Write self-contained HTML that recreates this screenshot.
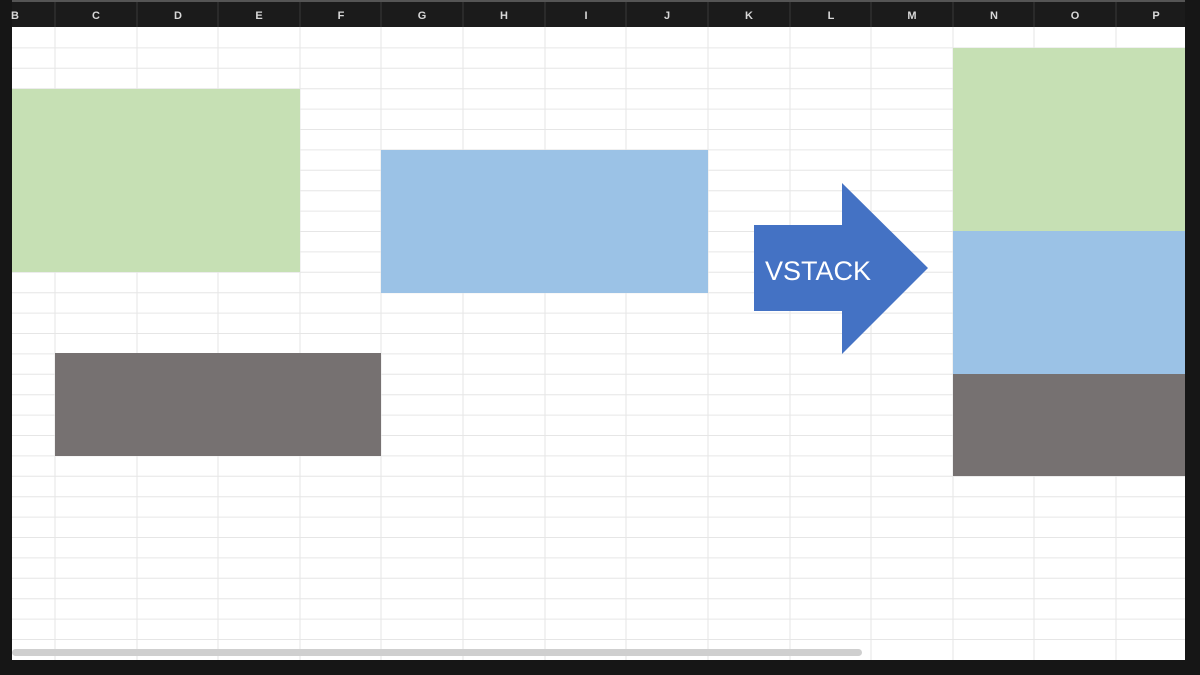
<!DOCTYPE html>
<html><head><meta charset="utf-8"><style>
html,body{margin:0;padding:0;background:#161616;}
svg{display:block}
</style></head><body>
<svg width="1200" height="675" viewBox="0 0 1200 675" xmlns="http://www.w3.org/2000/svg">
<rect x="0" y="0" width="1200" height="675" fill="#161616"/>
<rect x="12" y="0" width="1173" height="2" fill="#555"/>
<rect x="12" y="2" width="1173" height="25" fill="#1b1b1b"/>
<rect x="12" y="27" width="1173" height="633" fill="#ffffff"/>
<g stroke="#e6e6e6" stroke-width="1">
<line x1="12" y1="47.9" x2="1185" y2="47.9"/><line x1="12" y1="68.3" x2="1185" y2="68.3"/><line x1="12" y1="88.7" x2="1185" y2="88.7"/><line x1="12" y1="109.1" x2="1185" y2="109.1"/><line x1="12" y1="129.5" x2="1185" y2="129.5"/><line x1="12" y1="149.9" x2="1185" y2="149.9"/><line x1="12" y1="170.3" x2="1185" y2="170.3"/><line x1="12" y1="190.7" x2="1185" y2="190.7"/><line x1="12" y1="211.1" x2="1185" y2="211.1"/><line x1="12" y1="231.5" x2="1185" y2="231.5"/><line x1="12" y1="251.9" x2="1185" y2="251.9"/><line x1="12" y1="272.3" x2="1185" y2="272.3"/><line x1="12" y1="292.7" x2="1185" y2="292.7"/><line x1="12" y1="313.1" x2="1185" y2="313.1"/><line x1="12" y1="333.5" x2="1185" y2="333.5"/><line x1="12" y1="353.9" x2="1185" y2="353.9"/><line x1="12" y1="374.3" x2="1185" y2="374.3"/><line x1="12" y1="394.7" x2="1185" y2="394.7"/><line x1="12" y1="415.1" x2="1185" y2="415.1"/><line x1="12" y1="435.5" x2="1185" y2="435.5"/><line x1="12" y1="455.9" x2="1185" y2="455.9"/><line x1="12" y1="476.3" x2="1185" y2="476.3"/><line x1="12" y1="496.7" x2="1185" y2="496.7"/><line x1="12" y1="517.1" x2="1185" y2="517.1"/><line x1="12" y1="537.5" x2="1185" y2="537.5"/><line x1="12" y1="557.9" x2="1185" y2="557.9"/><line x1="12" y1="578.3" x2="1185" y2="578.3"/><line x1="12" y1="598.7" x2="1185" y2="598.7"/><line x1="12" y1="619.1" x2="1185" y2="619.1"/><line x1="12" y1="639.5" x2="1185" y2="639.5"/>
<line x1="55" y1="27" x2="55" y2="660"/><line x1="137" y1="27" x2="137" y2="660"/><line x1="218" y1="27" x2="218" y2="660"/><line x1="300" y1="27" x2="300" y2="660"/><line x1="381" y1="27" x2="381" y2="660"/><line x1="463" y1="27" x2="463" y2="660"/><line x1="545" y1="27" x2="545" y2="660"/><line x1="626" y1="27" x2="626" y2="660"/><line x1="708" y1="27" x2="708" y2="660"/><line x1="790" y1="27" x2="790" y2="660"/><line x1="871" y1="27" x2="871" y2="660"/><line x1="953" y1="27" x2="953" y2="660"/><line x1="1034" y1="27" x2="1034" y2="660"/><line x1="1116" y1="27" x2="1116" y2="660"/>
</g>
<g stroke="#3a3a3a" stroke-width="1">
<line x1="55" y1="2" x2="55" y2="27"/><line x1="137" y1="2" x2="137" y2="27"/><line x1="218" y1="2" x2="218" y2="27"/><line x1="300" y1="2" x2="300" y2="27"/><line x1="381" y1="2" x2="381" y2="27"/><line x1="463" y1="2" x2="463" y2="27"/><line x1="545" y1="2" x2="545" y2="27"/><line x1="626" y1="2" x2="626" y2="27"/><line x1="708" y1="2" x2="708" y2="27"/><line x1="790" y1="2" x2="790" y2="27"/><line x1="871" y1="2" x2="871" y2="27"/><line x1="953" y1="2" x2="953" y2="27"/><line x1="1034" y1="2" x2="1034" y2="27"/><line x1="1116" y1="2" x2="1116" y2="27"/>
</g>
<g fill="#d8d8d8" font-family="Liberation Sans, sans-serif" font-size="11" font-weight="bold" text-anchor="middle">
<text x="15" y="19">B</text><text x="96" y="19">C</text><text x="178" y="19">D</text><text x="259" y="19">E</text><text x="341" y="19">F</text><text x="422" y="19">G</text><text x="504" y="19">H</text><text x="586" y="19">I</text><text x="667" y="19">J</text><text x="749" y="19">K</text><text x="831" y="19">L</text><text x="912" y="19">M</text><text x="994" y="19">N</text><text x="1075" y="19">O</text><text x="1156" y="19">P</text>
</g>
<rect x="12" y="89" width="288" height="183" fill="#c6e0b4"/>
<rect x="381" y="150" width="327" height="143" fill="#9bc2e6"/>
<rect x="55" y="353" width="326" height="103" fill="#767171"/>
<rect x="953" y="48" width="232" height="183" fill="#c6e0b4"/>
<rect x="953" y="231" width="232" height="143" fill="#9bc2e6"/>
<rect x="953" y="374" width="232" height="102" fill="#767171"/>
<polygon points="754,225 842,225 842,183 928,268 842,354 842,311 754,311" fill="#4472c4"/>
<text x="765" y="280" fill="#ffffff" font-family="Liberation Sans, sans-serif" font-size="27">VSTACK</text>
<rect x="12" y="649" width="850" height="7" rx="3.5" fill="#cfcfcf"/>
</svg>
</body></html>
